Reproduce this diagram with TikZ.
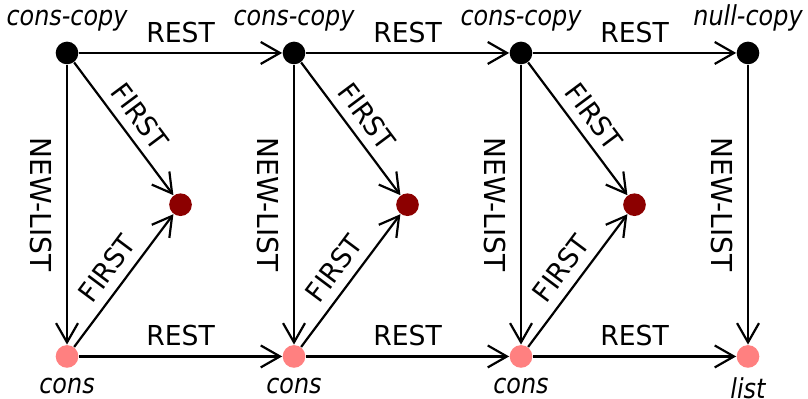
\documentclass[tikz,border=0pt]{standalone}
\usepackage{fontspec}
\setmainfont{DejaVu Sans}[FakeStretch=0.97, ItalicFeatures={FakeStretch=0.87}]
\usetikzlibrary{arrows.meta}

\begin{document}
\begin{tikzpicture}[
  cell/.style={circle, inner sep=0pt, minimum size=0.29cm},
  copy/.style={cell, fill=black},
  elem/.style={cell, fill=red!55!black},
  made/.style={cell, fill={rgb,255:red,255;green,128;blue,128}},
  link/.style={-{Straight Barb[length=7pt,width=8pt]}, line width=0.8pt},
  tag/.style={font=\itshape},
  sidelab/.style={sloped, below, inner sep=5pt}
]
\useasboundingbox (-0.858,-0.544) rectangle (9.486,4.563);

\def\dx{2.906}
\def\dy{3.885}

% cells of the three cons steps
\foreach \i in {0,1,2} {
  \node[copy, label={[tag]above:cons-copy}] (c\i) at (\i*\dx, \dy) {};
  \node[made, label={[tag]below:cons}] (n\i) at (\i*\dx, 0) {};
  \node[elem] (e\i) at (\i*\dx+\dx/2, \dy/2) {};
}

% last column: null
\node[copy, label={[tag]above:null-copy}] (c3) at (3*\dx, \dy) {};
\node[made, label={[tag]below:list}] (n3) at (3*\dx, 0) {};

% edges
\foreach \i [count=\j] in {0,1,2} {
  \draw[link] (c\i) -- node[above] {REST} (c\j);
  \draw[link] (n\i) -- node[above] {REST} (n\j);
  \draw[link] (c\i) -- node[sloped, above] {FIRST} (e\i);
  \draw[link] (n\i) -- node[sloped, above] {FIRST} (e\i);
}
\foreach \i in {0,...,3}
  \draw[link] (c\i) -- node[sidelab, font=\fontsize{10.5}{12}\selectfont] {NEW-LIST} (n\i);

\end{tikzpicture}
\end{document}
